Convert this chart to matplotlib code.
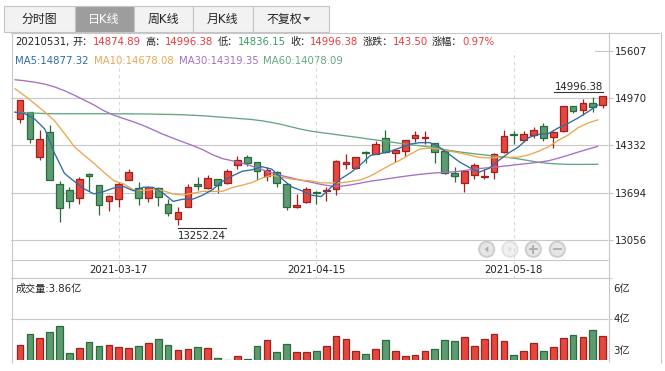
import matplotlib
matplotlib.use("Agg")
import numpy as np
import matplotlib.pyplot as plt
from matplotlib.patches import Rectangle, Circle, Polygon

# ---------------- data ----------------
dates = ["2021-03-03", "2021-03-04", "2021-03-05", "2021-03-08", "2021-03-09", "2021-03-10",
         "2021-03-11", "2021-03-12", "2021-03-15", "2021-03-16", "2021-03-17", "2021-03-18",
         "2021-03-19", "2021-03-22", "2021-03-23", "2021-03-24", "2021-03-25", "2021-03-26",
         "2021-03-29", "2021-03-30", "2021-03-31", "2021-04-01", "2021-04-02", "2021-04-06",
         "2021-04-07", "2021-04-08", "2021-04-09", "2021-04-12", "2021-04-13", "2021-04-14",
         "2021-04-15", "2021-04-16", "2021-04-19", "2021-04-20", "2021-04-21", "2021-04-22",
         "2021-04-23", "2021-04-26", "2021-04-27", "2021-04-28", "2021-04-29", "2021-04-30",
         "2021-05-06", "2021-05-07", "2021-05-10", "2021-05-11", "2021-05-12", "2021-05-13",
         "2021-05-14", "2021-05-17", "2021-05-18", "2021-05-19", "2021-05-20", "2021-05-21",
         "2021-05-24", "2021-05-25", "2021-05-26", "2021-05-27", "2021-05-28", "2021-05-31"]

opens = [14692, 14781, 14173, 14515, 13813, 13732, 13624, 13948, 13794, 13583,
         13610, 13867, 13754, 13624, 13763, 13543, 13340, 13506, 13813, 13759,
         13880, 13826, 14070, 14182, 14105, 13916, 13975, 13813, 13497, 13565,
         13709, 13718, 13745, 14083, 14029, 14240, 14218, 14435, 14232, 14263,
         14435, 14439, 14362, 14255, 13956, 13826, 13939, 13912, 13970, 14240,
         14489, 14407, 14475, 14601, 14443, 14533, 14858, 14804, 14907, 14874.89]
highs = [14945, 14790, 14543, 14610, 13858, 13768, 13912, 13955, 13800, 13665,
         13835, 14015, 13835, 13790, 13775, 13610, 13497, 13813, 13903, 13939,
         13885, 14015, 14195, 14205, 14110, 14037, 13990, 13820, 13677, 13768,
         13722, 13768, 14135, 14218, 14182, 14263, 14398, 14543, 14282, 14412,
         14533, 14524, 14368, 14262, 14037, 14002, 14092, 14015, 14227, 14547,
         14533, 14533, 14587, 14637, 14525, 14871, 14871, 14961, 14984, 14996.38]
lows = [14632, 14362, 14137, 13860, 13294, 13489, 13543, 13722, 13394, 13452,
        13497, 13860, 13533, 13574, 13520, 13384, 13252.24, 13500, 13732, 13745,
        13686, 13815, 14015, 14060, 13867, 13848, 13777, 13461, 13490, 13551,
        13543, 13587, 13668, 14015, 14015, 14092, 14212, 14235, 14105, 14195,
        14375, 14354, 14092, 13950, 13844, 13700, 13880, 13880, 13880, 14235,
        14354, 14375, 14435, 14398, 14299, 14511, 14767, 14749, 14781, 14836.15]
closes = [14939, 14421, 14421, 13867, 13489, 13578, 13880, 13916, 13529, 13651,
          13813, 13979, 13624, 13777, 13632, 13421, 13430, 13777, 13781, 13894,
          13799, 13993, 14137, 14097, 13993, 14006, 13826, 13506, 13533, 13745,
          13695, 13732, 14128, 14114, 14173, 14227, 14354, 14240, 14277, 14407,
          14475, 14452, 14240, 13956, 13921, 13983, 14074, 13925, 14218, 14466,
          14475, 14489, 14543, 14435, 14520, 14858, 14794, 14907, 14852.88, 14996.38]
volumes = [3.55, 3.95, 3.81, 4.03, 4.25, 3.26, 3.44, 3.66, 3.51, 3.55,
           3.48, 3.44, 3.51, 3.62, 3.77, 3.55, 3.37, 3.40, 3.48, 3.44,
           3.07, 3.01, 3.15, 3.05, 3.51, 3.73, 3.29, 3.59, 3.29, 3.29,
           3.33, 3.51, 3.89, 3.77, 3.33, 3.22, 3.40, 3.73, 3.33, 3.15,
           3.18, 3.33, 3.40, 3.73, 3.70, 3.84, 3.51, 3.77, 3.95, 3.70,
           3.18, 3.33, 3.62, 3.33, 3.48, 3.81, 3.92, 3.84, 4.10, 3.86]  # 亿

ma5 = [14781, 14760, 14686, 14556, 14227, 13955, 13847, 13746, 13678, 13711,
       13758, 13778, 13719, 13769, 13765, 13687, 13577, 13607, 13608, 13661,
       13736, 13849, 13921, 13984, 14004, 14045, 14012, 13886, 13773, 13723,
       13661, 13642, 13767, 13883, 13968, 14075, 14199, 14222, 14254, 14301,
       14351, 14370, 14370, 14306, 14209, 14110, 14035, 13972, 14024, 14133,
       14232, 14315, 14438, 14482, 14492, 14569, 14630, 14703, 14786, 14877.32]
ma10 = [15097, 15000, 14895, 14785, 14665, 14495, 14315, 14200, 14090, 13969,
        13857, 13812, 13733, 13724, 13738, 13722, 13677, 13663, 13689, 13713,
        13711, 13713, 13764, 13796, 13832, 13891, 13930, 13903, 13878, 13864,
        13853, 13827, 13826, 13828, 13846, 13868, 13921, 13994, 14069, 14135,
        14213, 14285, 14296, 14280, 14255, 14231, 14203, 14171, 14165, 14171,
        14171, 14175, 14205, 14253, 14313, 14400, 14472, 14571, 14634, 14678.08]
ma30 = [15219, 15205, 15185, 15160, 15122, 15072, 15010, 14945, 14878, 14800,
        14741, 14695, 14650, 14600, 14542, 14482, 14430, 14380, 14330, 14275,
        14207, 14155, 14125, 14094, 14052, 14006, 13962, 13925, 13894, 13862,
        13835, 13806, 13785, 13783, 13800, 13825, 13850, 13868, 13888, 13908,
        13926, 13942, 13956, 13966, 13972, 13984, 14004, 14020, 14033, 14045,
        14060, 14076, 14090, 14105, 14125, 14160, 14200, 14242, 14282, 14319.35]
ma60 = [14781, 14775, 14768, 14763, 14760, 14760, 14760, 14760, 14760, 14760,
        14760, 14759, 14758, 14757, 14755, 14752, 14750, 14746, 14740, 14733,
        14723, 14713, 14703, 14692, 14682, 14665, 14642, 14615, 14582, 14550,
        14525, 14505, 14488, 14470, 14453, 14435, 14416, 14398, 14380, 14360,
        14342, 14328, 14310, 14288, 14265, 14245, 14228, 14212, 14197, 14182,
        14168, 14150, 14128, 14105, 14090, 14082, 14077, 14076, 14077, 14078.09]

price_ticks = [13056, 13694, 14332, 14970, 15607]
vol_ticks = [3, 4.5, 6]
vol_tick_labels = ["3亿", "4亿", "6亿"]
date_ticks = ["2021-03-17", "2021-04-15", "2021-05-18"]
tabs = ["分时图", "日K线", "周K线", "月K线", "不复权"]

# ---------------- style ----------------
plt.rcParams["font.family"] = ["DejaVu Sans", "Noto Sans CJK SC"]
RED_F, RED_E = "#e6473c", "#a01f1f"
GRN_F, GRN_E = "#5c9b6f", "#2b6b3b"
C_MA5, C_MA10, C_MA30, C_MA60 = "#2f6ca4", "#eba64f", "#a56fc3", "#62a682"
T_RED, T_GRN, T_DARK = "#e8393c", "#3a9a60", "#222222"
GRID = "#c8c8c8"
FS = 7.3

W, H = 665, 371
fig = plt.figure(figsize=(W / 100, H / 100), dpi=100)
fig.patch.set_facecolor("white")


def frac(l, t, r, b):
    return [l / W, 1 - b / H, (r - l) / W, (b - t) / H]


bg = fig.add_axes([0, 0, 1, 1])
bg.set_xlim(0, W)
bg.set_ylim(H, 0)
bg.axis("off")

# ---- tabs ----
tab_edges = [3.5, 74.5, 133.5, 192.5, 252.5, 328.5]
for k, name in enumerate(tabs):
    l, r = tab_edges[k], tab_edges[k + 1]
    sel = k == 1
    bg.add_patch(Rectangle((l, 5.5), r - l, 26.5, facecolor="#9d9d9d" if sel else "#f2f2f2",
                           edgecolor="#c4c4c4", lw=0.8))
    cx = (l + r) / 2 - (6 if k == 4 else 0)
    bg.text(cx, 19, name, ha="center", va="center", fontsize=8.6,
            color="white" if sel else "#222222")
bg.add_patch(Polygon([[303, 17], [310.5, 17], [306.75, 21]], closed=True,
                     facecolor="#555555", edgecolor="none"))

# ---- frame lines ----
def hline(y, x0, x1):
    bg.plot([x0, x1], [y + 0.5, y + 0.5], color=GRID, lw=0.8, solid_capstyle="butt")


def vline(x, y0, y1):
    bg.plot([x + 0.5, x + 0.5], [y0, y1], color=GRID, lw=0.8, solid_capstyle="butt")


hline(32, 11, 660)
hline(259, 11, 608)
vline(11, 32, 363)
vline(608, 32, 362)
vline(660, 32, 363)

# ---- header rows ----
renderer = fig.canvas.get_renderer()


def text_row(x, y, pieces):
    for txt, col, gap in pieces:
        t = bg.text(x, y, txt, color=col, fontsize=FS, ha="left", va="baseline")
        x += t.get_window_extent(renderer=renderer).width + gap


chg = closes[-1] - closes[-2]
pct = chg / closes[-2] * 100
text_row(15.5, 45, [
    (dates[-1].replace("-", "") + ",", T_DARK, 3), ("开：", T_DARK, 0), (f"{opens[-1]:.2f}", T_RED, 4),
    ("高：", T_DARK, 0), (f"{highs[-1]:.2f}", T_RED, 4),
    ("低：", T_DARK, 0), (f"{lows[-1]:.2f}", T_GRN, 4),
    ("收：", T_DARK, 0), (f"{closes[-1]:.2f}", T_RED, 4),
    ("涨跌：", T_DARK, 0), (f"{chg:.2f}", T_RED, 4),
    ("涨幅：", T_DARK, 0), (f"{pct:.2f}%", T_RED, 0),
])
text_row(15.5, 63.5, [
    (f"MA5:{ma5[-1]:.2f}", C_MA5, 5), (f"MA10:{ma10[-1]:.2f}", C_MA10, 5),
    (f"MA30:{ma30[-1]:.2f}", C_MA30, 5), (f"MA60:{ma60[-1]:.2f}", C_MA60, 0),
])

# ---------------- price axes ----------------
idx = np.arange(len(dates))
STEP = 9.876
X0PX = 20.0
xlim = ((11 - X0PX) / STEP, (608 - X0PX) / STEP)

ax = fig.add_axes(frac(11, 51, 608, 259))
ax.patch.set_alpha(0)
for s in ax.spines.values():
    s.set_visible(False)
px_per_pt = (240 - 51) / (price_ticks[-1] - price_ticks[0])
ax.set_xlim(*xlim)
ax.set_ylim(price_ticks[0] - (259 - 240) / px_per_pt, price_ticks[-1])

for t in price_ticks[:-1]:
    ax.axhline(t, color=GRID, lw=0.8, zorder=0.5)
ax.axhline(price_ticks[-1], xmin=(595 - 11) / 597, xmax=1, color=GRID, lw=0.8, zorder=0.5, clip_on=False)

date_pos = [dates.index(d) for d in date_ticks]
for p in date_pos:
    ax.axvline(p, ymin=-(278 - 259) / (259 - 51), ymax=1, color="#d9d9d9", lw=0.8,
               ls=(0, (3, 3)), zorder=0.4, clip_on=False)

up = [c >= o for o, c in zip(opens, closes)]
fills = [RED_F if u else GRN_F for u in up]
edges = [RED_E if u else GRN_E for u in up]
body_lo = [min(o, c) for o, c in zip(opens, closes)]
body_h = [abs(c - o) for o, c in zip(opens, closes)]
ax.vlines(idx, lows, highs, colors=edges, lw=0.9, zorder=2)
ax.bar(idx, body_h, bottom=body_lo, width=0.68, color=fills, edgecolor=edges, linewidth=0.9, zorder=3)

for vals, col in [(ma60, C_MA60), (ma30, C_MA30), (ma10, C_MA10), (ma5, C_MA5)]:
    ax.plot(idx - 0.5, vals, color=col, lw=0.95, zorder=4)

ax.yaxis.tick_right()
ax.set_yticks(price_ticks)
ax.set_yticklabels([str(t) for t in price_ticks])
ax.tick_params(axis="y", length=3.6, width=0.8, color=GRID, pad=1.5, labelsize=FS, labelcolor=T_DARK)
ax.set_xticks(date_pos)
ax.set_xticklabels(date_ticks)
ax.tick_params(axis="x", length=0, pad=4.4, labelsize=FS, labelcolor=T_DARK)
for lb in ax.get_xticklabels():
    lb.set_bbox(dict(facecolor="white", edgecolor="none", pad=0.6))

# high / low annotations
i_hi = int(np.argmax(highs))
i_lo = int(np.argmin(lows))
to_bg = lambda xy: bg.transData.inverted().transform(ax.transData.transform(xy))
hx, hy = to_bg((i_hi, highs[i_hi]))
lx, ly = to_bg((i_lo, lows[i_lo]))
th = bg.text(hx, hy - 5.8, f"{highs[i_hi]:.2f}", ha="right", va="baseline", fontsize=FS, color=T_DARK)
wh = th.get_window_extent(renderer=renderer).width
bg.plot([hx - wh, hx], [hy - 4.3, hy - 4.3], color="#333333", lw=0.8)
tl = bg.text(lx, ly + 5.2, f"{lows[i_lo]:.2f}", ha="left", va="top", fontsize=FS, color=T_DARK)
wl = tl.get_window_extent(renderer=renderer).width
bg.plot([lx, lx + wl], [ly + 2.6, ly + 2.6], color="#333333", lw=0.8)

# nav buttons
for k, cx in enumerate([486.7, 510, 533.3, 557.3]):
    dis = k == 1
    bg.add_patch(Circle((cx, 249.3), 7.6, facecolor="#f0f0f0" if dis else "#e6e6e6",
                        edgecolor="#e2e2e2" if dis else "#cdcdcd", lw=1.4))
    ic = "#dddddd" if dis else "#ababab"
    if k == 0:
        bg.add_patch(Polygon([[cx + 1.6, 246.2], [cx + 1.6, 252.4], [cx - 2.0, 249.3]], closed=True,
                             facecolor=ic, edgecolor="none"))
    elif k == 1:
        bg.add_patch(Polygon([[cx - 1.6, 246.2], [cx - 1.6, 252.4], [cx + 2.0, 249.3]], closed=True,
                             facecolor=ic, edgecolor="none"))
    elif k == 2:
        bg.plot([cx - 3.2, cx + 3.2], [249.3, 249.3], color=ic, lw=1.3)
        bg.plot([cx, cx], [246.1, 252.5], color=ic, lw=1.3)
    else:
        bg.plot([cx - 3.2, cx + 3.2], [249.3, 249.3], color=ic, lw=1.3)

# ---------------- volume axes ----------------
axv = fig.add_axes(frac(11, 278, 608, 360))
axv.patch.set_alpha(0)
for s in axv.spines.values():
    s.set_visible(False)
axv.set_xlim(*xlim)
axv.set_ylim(vol_ticks[0], vol_ticks[-1])
axv.axhline(vol_ticks[-1], color=GRID, lw=0.8, zorder=0.5, clip_on=False)
axv.axhline(vol_ticks[1], color=GRID, lw=0.8, zorder=0.5)
axv.bar(idx, volumes, width=0.68, color=fills, edgecolor=edges, linewidth=0.9, zorder=3)
axv.yaxis.tick_right()
axv.set_yticks(vol_ticks[1:])
axv.set_yticklabels([])
axv.tick_params(axis="y", length=3.0, width=0.8, color=GRID)
axv.set_xticks([])
# right-side labels (6亿 below top tick, 4亿 at middle tick, 3亿 above bottom)
offsets = {0: (0, 2.6, "bottom"), 1: (0, 0, "center"), 2: (0, -4.5, "top")}
for k, (v, lab) in enumerate(zip(vol_ticks, vol_tick_labels)):
    dx, dy, va = offsets[k]
    axv.annotate(lab, xy=(1, v), xycoords=("axes fraction", "data"),
                 xytext=(4.0, dy), textcoords="offset points", ha="left", va=va,
                 fontsize=FS, color=T_DARK, annotation_clip=False)
bg.text(15.5, 289, f"成交量:{volumes[-1]:.2f}亿", ha="left", va="center", fontsize=FS, color=T_DARK)

fig.savefig("out.png", dpi=100, facecolor="white")
